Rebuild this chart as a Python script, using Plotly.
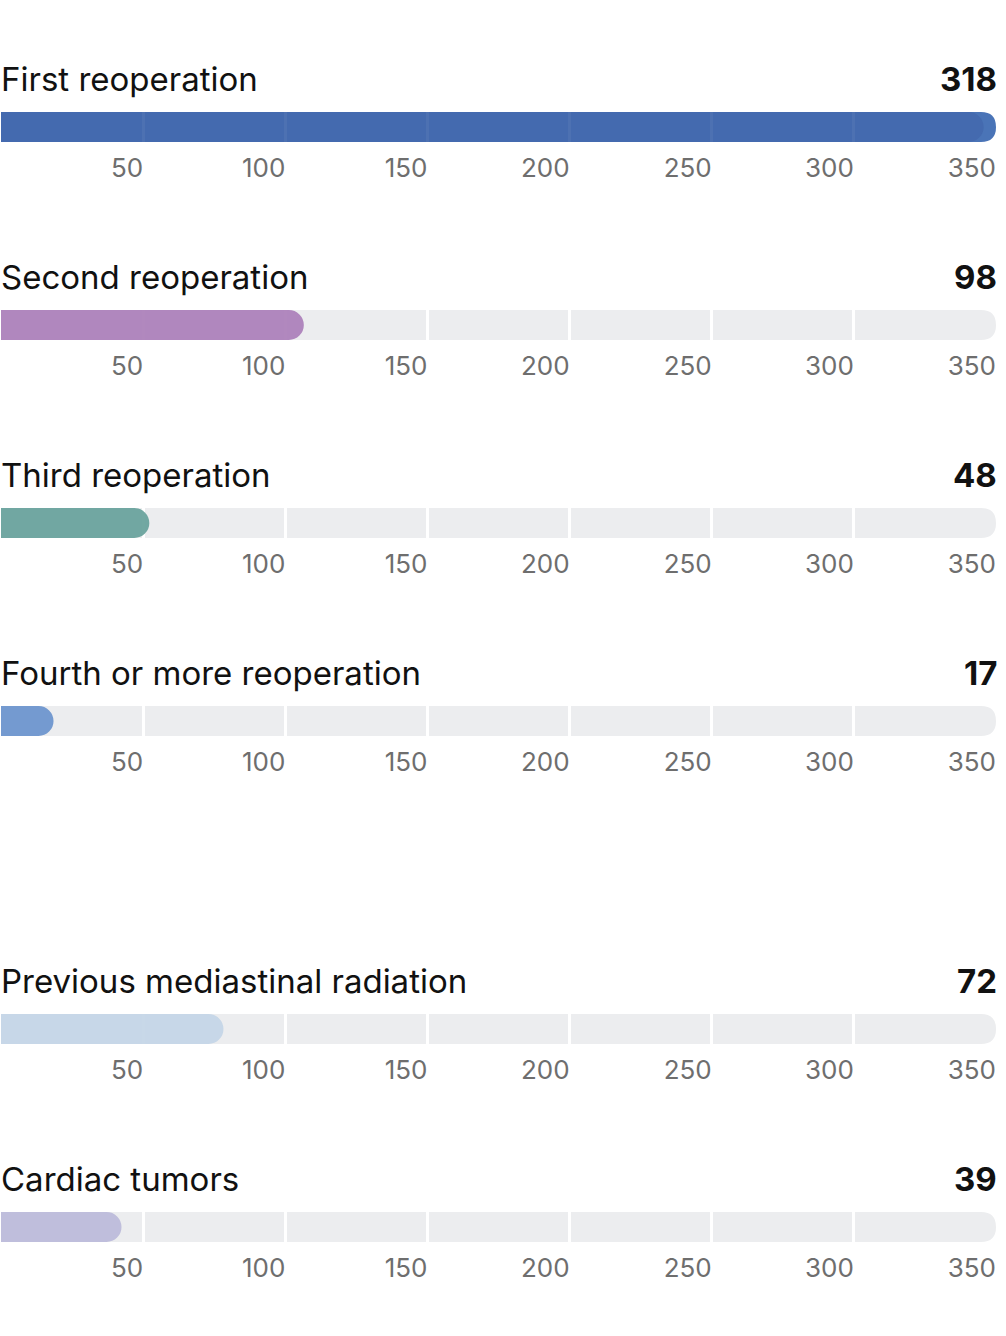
import plotly.graph_objects as go

categories = ["First reoperation", "Second reoperation", "Third reoperation",
              "Fourth or more reoperation", "Previous mediastinal radiation", "Cardiac tumors"]
values = [318, 98, 48, 17, 72, 39]
tick_values = [50, 100, 150, 200, 250, 300, 350]
tick_labels = ["50", "100", "150", "200", "250", "300", "350"]

bar_colors = ["#4369AE", "#AD82BA", "#6AA39D", "#6E96CE", "#C5D6E7", "#BDBCDA"]
track_colors = ["#4A74B7", "#ECEDEF", "#ECEDEF", "#ECEDEF", "#ECEDEF", "#ECEDEF"]

W, H = 1006, 1336
track_tops = [112, 310, 508, 706, 1014, 1212]
track_h = 30
R = 15
BAR_MAX = 322
AXIS_MAX = 350
FONT = "Inter"

fig = go.Figure()
layout = dict(width=W, height=H, margin=dict(l=1, r=10, t=0, b=0),
              paper_bgcolor="white", plot_bgcolor="rgba(0,0,0,0)",
              showlegend=False, barmode="overlay", annotations=[], shapes=[])

track_path = (f"M -2000,{-track_h/2} L {-R},{-track_h/2} Q 0,{-track_h/2} 0,0 "
              f"Q 0,{track_h/2} {-R},{track_h/2} L -2000,{track_h/2} Z")

for i, (cat, val) in enumerate(zip(categories, values)):
    xa = 2 * i + 1
    xb = 2 * i + 2
    ya = i + 1
    top = track_tops[i]
    d1 = 1 - (top + track_h) / H
    d2 = 1 - top / H
    xs_a = "x" if xa == 1 else f"x{xa}"
    xs_b = f"x{xb}"
    ys = "y" if ya == 1 else f"y{ya}"
    # track (rounded right end) below gridlines
    layout["shapes"].append(dict(type="path", xref=xs_a, yref=ys,
                                 xsizemode="pixel", ysizemode="pixel",
                                 xanchor=AXIS_MAX, yanchor=0,
                                 path=track_path, fillcolor=track_colors[i],
                                 line=dict(width=0), layer="below"))
    # value bar
    fig.add_trace(go.Bar(x=[val], y=[0], orientation="h", width=1,
                         marker=dict(color=bar_colors[i], cornerradius=R, line_width=0),
                         opacity=0.95, xaxis=xs_b, yaxis=ys, name=cat))
    kx_a = "xaxis" if xa == 1 else f"xaxis{xa}"
    kx_b = f"xaxis{xb}"
    ky = "yaxis" if ya == 1 else f"yaxis{ya}"
    layout[kx_a] = dict(range=[0, AXIS_MAX], domain=[0, 1], anchor=ys,
                        showgrid=True, gridcolor="white", gridwidth=2.5,
                        zeroline=False, showline=False,
                        tickmode="array", tickvals=tick_values, ticktext=tick_labels,
                        ticks="", ticklabelposition="outside left", ticklabelstandoff=8,
                        tickfont=dict(family=FONT, size=26, color="#6E6E6E"),
                        fixedrange=True)
    layout[kx_b] = dict(range=[0, BAR_MAX], overlaying=xs_a, anchor=ys,
                        visible=False, showgrid=False, zeroline=False, fixedrange=True)
    layout[ky] = dict(range=[-0.5, 0.5], domain=[d1, d2], visible=False,
                      showgrid=False, zeroline=False, fixedrange=True)
    ytext = 1 - (top - 11) / H
    layout["annotations"].append(dict(text=cat, x=0, y=ytext, xref="paper", yref="paper",
                                      xanchor="left", yanchor="bottom", showarrow=False,
                                      xshift=-2,
                                      font=dict(family=FONT, size=33, color="#111111")))
    layout["annotations"].append(dict(text=f"<b>{val}</b>", x=1, y=ytext, xref="paper", yref="paper",
                                      xanchor="right", yanchor="bottom", showarrow=False,
                                      xshift=3,
                                      font=dict(family=FONT, size=33, color="#111111")))

fig.update_layout(**layout)
fig.write_html("out.html", config={"displayModeBar": False},
               post_script="document.body.style.margin='0';")
